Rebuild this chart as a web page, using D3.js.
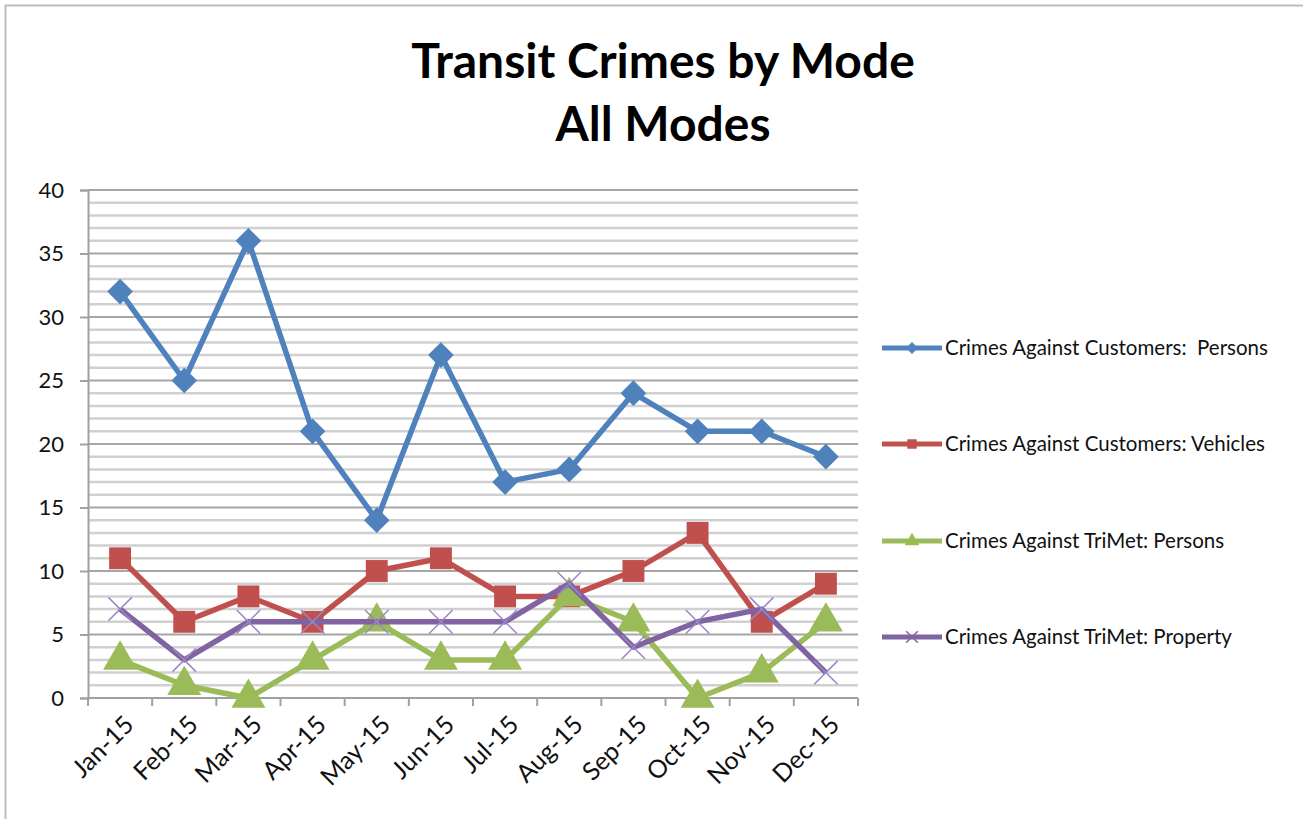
<!DOCTYPE html>
<html lang="en">
<head>
<meta charset="UTF-8">
<title>Transit Crimes by Mode</title>
<script src="https://cdn.jsdelivr.net/npm/d3@7"></script>
<style>
    body { margin: 0; background: white; }
    svg { display: block; font-family: Lato, "Open Sans", sans-serif; }
</style>
</head>
<body>
<script>
    // ---------------- data ----------------
    const months = ["Jan-15","Feb-15","Mar-15","Apr-15","May-15","Jun-15","Jul-15","Aug-15","Sep-15","Oct-15","Nov-15","Dec-15"];
    const custPersons  = [32, 25, 36, 21, 14, 27, 17, 18, 24, 21, 21, 19];
    const custVehicles = [11, 6, 8, 6, 10, 11, 8, 8, 10, 13, 6, 9];
    const trimetPersons  = [3, 1, 0, 3, 6, 3, 3, 8, 6, 0, 2, 6];
    const trimetProperty = [7, 3, 6, 6, 6, 6, 6, 9, 4, 6, 7, 2];
    const seriesNames = ["Crimes Against Customers:  Persons", "Crimes Against Customers: Vehicles",
                         "Crimes Against TriMet: Persons", "Crimes Against TriMet: Property"];
    const yTicks = [0, 5, 10, 15, 20, 25, 30, 35, 40];

    const series = [
        {name: seriesNames[0], values: custPersons,   color: "#4F81BD", marker: "diamond"},
        {name: seriesNames[1], values: custVehicles,  color: "#C0504D", marker: "square"},
        {name: seriesNames[2], values: trimetPersons, color: "#9BBB59", marker: "triangle"},
        {name: seriesNames[3], values: trimetProperty,color: "#8064A2", marker: "cross"}
    ];

    // ---------------- layout ----------------
    const W = 1303, H = 819;
    const plot = {left: 88, right: 858, top: 190, bottom: 698};

    const svg = d3.select("body").append("svg")
        .attr("width", W).attr("height", H);

    // outer chart border
    svg.append("rect")
        .attr("x", 5.5).attr("y", 5.5)
        .attr("width", W + 10).attr("height", H + 10)
        .attr("fill", "white").attr("stroke", "#bdbdbd").attr("stroke-width", 2);

    // title
    const title = svg.append("text")
        .attr("text-anchor", "middle")
        .attr("font-weight", "bold")
        .attr("font-size", 48)
        .attr("fill", "#000");
    title.append("tspan").attr("x", 663).attr("y", 78).text("Transit Crimes by Mode");
    title.append("tspan").attr("x", 663).attr("y", 141).text("All Modes");

    // scales
    const x = d3.scaleBand().domain(months).range([plot.left, plot.right]);
    const y = d3.scaleLinear().domain([0, 40]).range([plot.bottom, plot.top]);

    // minor gridlines (every 1)
    svg.append("g").selectAll("line")
        .data(d3.range(1, 40).filter(v => v % 5 !== 0))
        .join("line")
        .attr("x1", plot.left).attr("x2", plot.right)
        .attr("y1", d => y(d)).attr("y2", d => y(d))
        .attr("stroke", "#d0d0d0").attr("stroke-width", 2.5);

    // major gridlines
    svg.append("g").selectAll("line")
        .data(yTicks.filter(v => v > 0))
        .join("line")
        .attr("x1", plot.left).attr("x2", plot.right)
        .attr("y1", d => y(d)).attr("y2", d => y(d))
        .attr("stroke", "#a6a6a6").attr("stroke-width", 2);

    // y axis
    const yAxis = svg.append("g")
        .attr("transform", `translate(${plot.left},0)`)
        .call(d3.axisLeft(y).tickValues(yTicks).tickSize(8).tickPadding(16));
    yAxis.select(".domain").attr("stroke", "#a0a0a0").attr("stroke-width", 2);
    yAxis.selectAll(".tick line").attr("stroke", "#a0a0a0").attr("stroke-width", 2);
    yAxis.selectAll(".tick text").attr("font-size", 22).attr("font-family", "Lato, sans-serif").attr("fill", "#111");

    // x axis: ticks between categories
    const xAxisG = svg.append("g");
    xAxisG.append("line")
        .attr("x1", plot.left).attr("x2", plot.right)
        .attr("y1", plot.bottom).attr("y2", plot.bottom)
        .attr("stroke", "#a0a0a0").attr("stroke-width", 2);
    xAxisG.selectAll("line.tk")
        .data(d3.range(months.length + 1))
        .join("line").attr("class", "tk")
        .attr("x1", i => plot.left + i * x.step()).attr("x2", i => plot.left + i * x.step())
        .attr("y1", plot.bottom).attr("y2", plot.bottom + 8)
        .attr("stroke", "#a0a0a0").attr("stroke-width", 2);
    xAxisG.selectAll("text")
        .data(months)
        .join("text")
        .attr("transform", d => `translate(${x(d) + x.bandwidth() / 2 + 9},${plot.bottom + 22}) rotate(-45)`)
        .attr("text-anchor", "end")
        .attr("dy", "0.35em")
        .attr("font-size", 25)
        .attr("fill", "#111")
        .text(d => d);

    // markers
    const symType = {diamond: d3.symbolDiamond2, square: d3.symbolSquare,
                     triangle: d3.symbolTriangle, cross: d3.symbolX};
    const symSize = {diamond: 420, square: 480, triangle: 500, cross: 360};
    const line = d3.line()
        .x((d, i) => x(months[i]) + x.bandwidth() / 2)
        .y(d => y(d));

    series.forEach(s => {
        const g = svg.append("g");
        g.append("path")
            .attr("d", line(s.values))
            .attr("fill", "none")
            .attr("stroke", s.color)
            .attr("stroke-width", 5.5)
            .attr("stroke-linejoin", "round");
        g.selectAll("path.m")
            .data(s.values)
            .join("path").attr("class", "m")
            .attr("transform", (d, i) => `translate(${x(months[i]) + x.bandwidth() / 2},${y(d)})`)
            .attr("d", d3.symbol().type(symType[s.marker]).size(symSize[s.marker]))
            .attr("fill", s.marker === "cross" ? "none" : s.color)
            .attr("stroke", s.marker === "cross" ? "#9a86c6" : "none")
            .attr("stroke-width", 1.5);
    });

    // legend
    const legendY = [348, 444, 541, 637];
    const leg = svg.append("g").selectAll("g")
        .data(series)
        .join("g")
        .attr("transform", (d, i) => `translate(882,${legendY[i]})`);
    leg.append("line")
        .attr("x1", 0).attr("x2", 60)
        .attr("stroke", d => d.color).attr("stroke-width", 5);
    leg.append("path")
        .attr("transform", "translate(30,0)")
        .attr("d", d => d3.symbol().type(symType[d.marker]).size(90)())
        .attr("fill", d => d.marker === "cross" ? "none" : d.color)
        .attr("stroke", d => d.marker === "cross" ? d.color : "none")
        .attr("stroke-width", 1.5);
    leg.append("text")
        .attr("x", 63).attr("dy", "0.35em")
        .attr("font-size", 20.5)
        .attr("fill", "#111")
        .style("white-space", "pre")
        .text(d => d.name);
</script>
</body>
</html>
